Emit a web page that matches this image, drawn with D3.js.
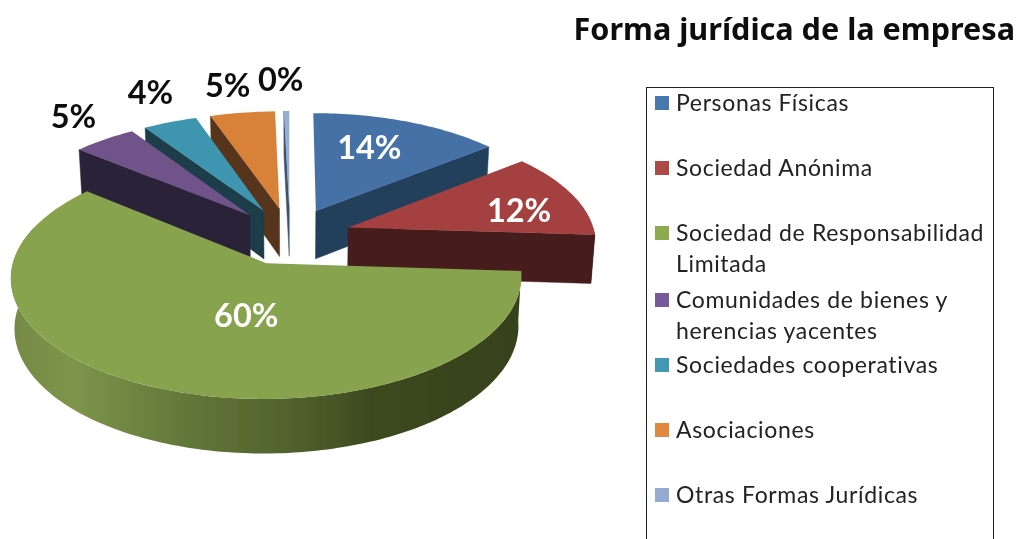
<!DOCTYPE html>
<html><head><meta charset="utf-8">
<script src="https://cdn.jsdelivr.net/npm/d3@7/dist/d3.min.js"></script>
<style>html,body{margin:0;padding:0;background:#fff;overflow:hidden}svg{display:block}</style>
</head><body><svg id="c" width="1022" height="539"></svg>
<script>
const title = "Forma jurídica de la empresa";
const categories = ["Personas Físicas","Sociedad Anónima","Sociedad de Responsabilidad Limitada","Comunidades de bienes y herencias yacentes","Sociedades cooperativas","Asociaciones","Otras Formas Jurídicas"];
const legendLines = [["Personas Físicas"],["Sociedad Anónima"],["Sociedad de Responsabilidad","Limitada"],["Comunidades de bienes y","herencias yacentes"],["Sociedades cooperativas"],["Asociaciones"],["Otras Formas Jurídicas"]];
const values = [14.1,11.9,60,4.7,4,4.8,0.4];
const labels = ["14%","12%","60%","5%","4%","5%","0%"];
const topColors = ["#4471a6","#a5413f","#87a34e","#6f5389","#3e95af","#d88139","#94aed5"];
const wallColors = ["#243f5c","#471c1a","#374419","#2c2238","#1b3c49","#57341a","#3c5170"];
const swatchColors = ["#4a78ae","#ae4a48","#8caa50","#775a99","#4298b2","#e0873f","#95a9d3"];
const labelRadius = [.67,.73,.42,1.3,1.35,1.32,1.37];
const labelTurn = [-4,5.5,-12,2.1,2,-.9,-1];
const labelColors = ["#fff","#fff","#fff","#111","#111","#111","#111"];
const legendRows = [103,168,233,300,365,430,495];

const svg = d3.select("#c");
const FONT = "Lato, Carlito, sans-serif";
const cx=290, cy=236, bx=247, ay=114, k=.112, explode=.25;
const project = (px,p)=>{const s=1/(1-k*p);return [cx+bx*px*s, cy+ay*p*s];};
const lower = ([x,y])=>[cx+(x-cx)*.987, y+48+.035*(y-212)];
const TAU=Math.PI*2;
const pieGen = d3.pie().sort(null).startAngle(0).endAngle(TAU);
const arcs = pieGen(values).map((d,i)=>{
  const m=(d.startAngle+d.endAngle)/2;
  return {i,a0:d.startAngle,a1:d.endAngle,m,ex:explode*Math.sin(m),ey:-explode*Math.cos(m)};
});
const pt=(s,a,r=1)=>project(s.ex+r*Math.sin(a),s.ey-r*Math.cos(a));
const samples=(a0,a1)=>{const n=Math.max(2,Math.ceil((a1-a0)/.02));return d3.range(n+1).map(j=>a0+(a1-a0)*j/n);};
const line=d3.line();

const defs=svg.append("defs");
const grad=defs.append("linearGradient").attr("id","gw").attr("gradientUnits","userSpaceOnUse").attr("x1",12).attr("x2",521).attr("y1",0).attr("y2",0);
[[0,"#758a45"],[.12,"#7d954a"],[.35,"#627639"],[.55,"#50622d"],[.72,"#3b481e"],[1,"#36421b"]].forEach(([o,c])=>grad.append("stop").attr("offset",o).attr("stop-color",c));
const blur=defs.append("filter").attr("id","soft").attr("filterUnits","userSpaceOnUse").attr("x",0).attr("y",0).attr("width",1022).attr("height",539);
blur.append("feGaussianBlur").attr("stdDeviation",.5);

const root=svg.append("g").attr("filter","url(#soft)");
const g=root.append("g");
const order=arcs.slice().sort((a,b)=>project(a.ex,a.ey)[1]-project(b.ex,b.ey)[1]);
order.forEach(s=>{
  const col=wallColors[s.i];
  const apex=project(s.ex,s.ey);
  const wall=a=>{const o=pt(s,a);return [apex,o,lower(o),lower(apex)];};
  if(Math.sin(s.a0)<-1e-6) g.append("path").attr("d",line(wall(s.a0))+"Z").attr("fill",col).attr("stroke",col).attr("stroke-width",.5);
  if(Math.sin(s.a1)>1e-6) g.append("path").attr("d",line(wall(s.a1))+"Z").attr("fill",col).attr("stroke",col).attr("stroke-width",.5);
  const f0=Math.max(s.a0,Math.PI/2), f1=Math.min(s.a1,Math.PI*1.5+.3);
  if(f1>f0){
    const t=samples(f0,f1).map(a=>pt(s,a));
    const loop=t.concat(t.slice().reverse().map(lower));
    g.append("path").attr("d",line(loop)+"Z").attr("fill",s.i===2?"url(#gw)":col);
  }
  const rim=samples(s.a0,s.a1).map(a=>pt(s,a));
  g.append("path").attr("d",line([apex].concat(rim))+"Z").attr("fill",topColors[s.i]);
});

arcs.forEach(s=>{
  const [x,y]=pt(s,s.m+labelTurn[s.i]*Math.PI/180,labelRadius[s.i]);
  root.append("text").attr("x",x).attr("y",y).attr("dy",".35em").attr("text-anchor","middle")
    .attr("font-family",FONT).attr("font-weight",700).attr("font-size",32.5).attr("fill",labelColors[s.i]).text(labels[s.i]);
});

root.append("text").attr("x",1015).attr("y",40).attr("text-anchor","end").attr("font-family","'Noto Sans', sans-serif")
  .attr("font-weight",700).attr("font-size",30.6).attr("fill","#111").text(title);

root.append("rect").attr("x",646.5).attr("y",87.5).attr("width",347).attr("height",470).attr("fill","none").attr("stroke","#222").attr("stroke-width",1);
const leg=root.append("g");
categories.forEach((c,i)=>{
  const y=legendRows[i];
  leg.append("rect").attr("x",655).attr("y",y-7).attr("width",14).attr("height",14).attr("fill",swatchColors[i]);
  legendLines[i].forEach((t,j)=>{
    leg.append("text").attr("x",676).attr("y",y+8+j*31).attr("font-family",FONT).attr("font-size",23).attr("letter-spacing",.65).attr("fill","#222").text(t);
  });
});
</script></body></html>
